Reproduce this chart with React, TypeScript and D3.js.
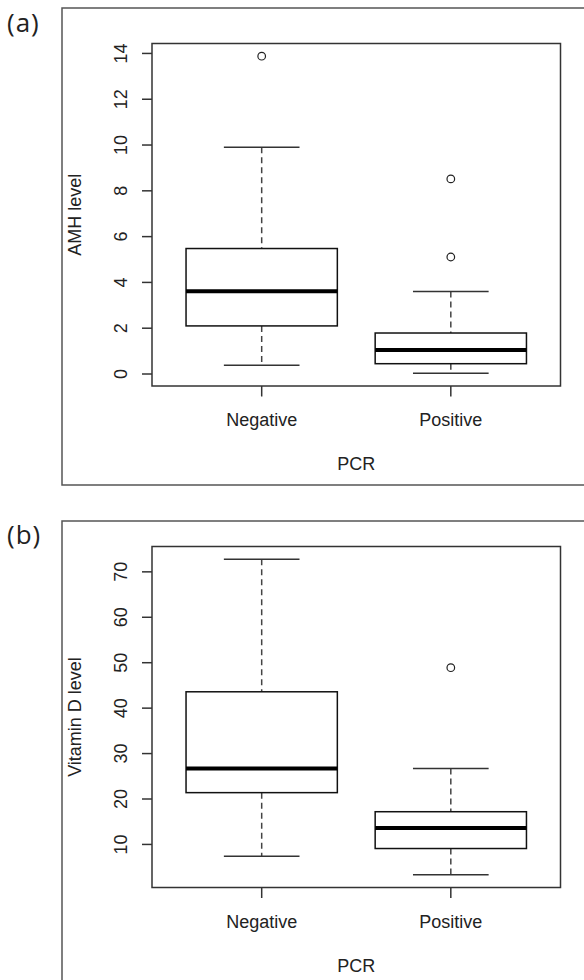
import { useEffect, useRef } from "react";
import * as d3 from "d3";

// five-number summaries: [lower whisker, Q1, median, Q3, upper whisker]
const groups = ["Negative", "Positive"];

const amhStats = [
  [0.38, 2.1, 3.61, 5.48, 9.9],
  [0.03, 0.45, 1.05, 1.79, 3.6],
];
const amhOutliers = [[13.88], [5.11, 8.52]];
const amhTicks = [0, 2, 4, 6, 8, 10, 12, 14];

const vitStats = [
  [7.4, 21.4, 26.7, 43.6, 72.8],
  [3.3, 9.1, 13.6, 17.2, 26.7],
];
const vitOutliers = [[], [48.9]];
const vitTicks = [10, 20, 30, 40, 50, 60, 70];

const FONT = "'Liberation Sans', Arial, sans-serif";

function drawPanel(svg, opts) {
  const { frameTop, frameBottom, top, bottom, tag, tagY, yLabel, stats, outliers, ticks } = opts;
  const left = 152;
  const right = 560.5;

  // outer frame (extends past the page edge like the reference)
  svg
    .append("rect")
    .attr("x", 62)
    .attr("y", frameTop)
    .attr("width", 560)
    .attr("height", frameBottom - frameTop)
    .attr("fill", "none")
    .attr("stroke", "#555")
    .attr("stroke-width", 1.5);

  svg
    .append("text")
    .attr("x", 7)
    .attr("y", tagY)
    .attr("font-family", "'Open Sans', sans-serif")
    .attr("font-size", 26)
    .attr("letter-spacing", 1)
    .attr("fill", "#222")
    .text(tag);

  // R-style 4% padding around the data range
  const all = stats.flat().concat(outliers.flat());
  const lo = d3.min(all);
  const hi = d3.max(all);
  const pad = (hi - lo) * 0.04;
  const y = d3.scaleLinear().domain([lo - pad, hi + pad]).range([bottom, top]);
  const x = d3.scaleLinear().domain([0.42, 2.58]).range([left, right]);

  svg
    .append("rect")
    .attr("x", left)
    .attr("y", top)
    .attr("width", right - left)
    .attr("height", bottom - top)
    .attr("fill", "none")
    .attr("stroke", "#333")
    .attr("stroke-width", 1.5);

  // y axis
  const yAxis = svg.append("g");
  yAxis
    .selectAll("line")
    .data(ticks)
    .enter()
    .append("line")
    .attr("x1", left - 10)
    .attr("x2", left)
    .attr("y1", (d) => y(d))
    .attr("y2", (d) => y(d))
    .attr("stroke", "#333")
    .attr("stroke-width", 1.5);
  yAxis
    .selectAll("text")
    .data(ticks)
    .enter()
    .append("text")
    .attr("transform", (d) => `translate(127,${y(d)}) rotate(-90)`)
    .attr("text-anchor", "middle")
    .attr("font-family", FONT)
    .attr("font-size", 18)
    .attr("fill", "#222")
    .text((d) => d);

  svg
    .append("text")
    .attr("transform", `translate(81,${(top + bottom) / 2}) rotate(-90)`)
    .attr("text-anchor", "middle")
    .attr("font-family", FONT)
    .attr("font-size", 18)
    .attr("fill", "#222")
    .text(yLabel);

  // x axis
  groups.forEach((name, i) => {
    const cx = x(i + 1);
    svg
      .append("line")
      .attr("x1", cx)
      .attr("x2", cx)
      .attr("y1", bottom)
      .attr("y2", bottom + 10.5)
      .attr("stroke", "#333")
      .attr("stroke-width", 1.5);
    svg
      .append("text")
      .attr("x", cx)
      .attr("y", bottom + 40)
      .attr("text-anchor", "middle")
      .attr("font-family", FONT)
      .attr("font-size", 18)
      .attr("fill", "#222")
      .text(name);
  });

  svg
    .append("text")
    .attr("x", (left + right) / 2)
    .attr("y", bottom + 84)
    .attr("text-anchor", "middle")
    .attr("font-family", FONT)
    .attr("font-size", 18)
    .attr("fill", "#222")
    .text("PCR");

  // boxes
  stats.forEach((s, i) => {
    const [wLo, q1, med, q3, wHi] = s;
    const cx = x(i + 1);
    const bx0 = x(i + 1 - 0.4);
    const bx1 = x(i + 1 + 0.4);
    const cx0 = x(i + 1 - 0.2);
    const cx1 = x(i + 1 + 0.2);
    const g = svg.append("g");

    [
      [wHi, q3],
      [q1, wLo],
    ].forEach(([a, b]) => {
      g.append("line")
        .attr("x1", cx)
        .attr("x2", cx)
        .attr("y1", y(a))
        .attr("y2", y(b))
        .attr("stroke", "#444")
        .attr("stroke-width", 1.5)
        .attr("stroke-dasharray", "6,4");
    });
    [wLo, wHi].forEach((v) => {
      g.append("line")
        .attr("x1", cx0)
        .attr("x2", cx1)
        .attr("y1", y(v))
        .attr("y2", y(v))
        .attr("stroke", "#333")
        .attr("stroke-width", 1.5);
    });
    g.append("rect")
      .attr("x", bx0)
      .attr("y", y(q3))
      .attr("width", bx1 - bx0)
      .attr("height", y(q1) - y(q3))
      .attr("fill", "none")
      .attr("stroke", "#111")
      .attr("stroke-width", 1.5);
    g.append("line")
      .attr("x1", bx0)
      .attr("x2", bx1)
      .attr("y1", y(med))
      .attr("y2", y(med))
      .attr("stroke", "#000")
      .attr("stroke-width", 4);

    g.selectAll("circle")
      .data(outliers[i])
      .enter()
      .append("circle")
      .attr("cx", cx)
      .attr("cy", (d) => y(d))
      .attr("r", 3.8)
      .attr("fill", "none")
      .attr("stroke", "#222")
      .attr("stroke-width", 1.2);
  });
}

export default function App() {
  const svgRef = useRef(null);

  useEffect(() => {
    if (!svgRef.current) return;
    document.body.style.margin = "0";
    const svg = d3.select(svgRef.current);
    svg.selectAll("*").remove();

    drawPanel(svg, {
      frameTop: 8,
      frameBottom: 485,
      top: 43.5,
      bottom: 386,
      tag: "(a)",
      tagY: 32,
      yLabel: "AMH level",
      stats: amhStats,
      outliers: amhOutliers,
      ticks: amhTicks,
    });

    drawPanel(svg, {
      frameTop: 521,
      frameBottom: 1000,
      top: 546.5,
      bottom: 887.5,
      tag: "(b)",
      tagY: 544,
      yLabel: "Vitamin D level",
      stats: vitStats,
      outliers: vitOutliers,
      ticks: vitTicks,
    });
  }, []);

  return (
    <svg
      ref={svgRef}
      width={584}
      height={980}
      style={{ display: "block", background: "#fff" }}
    />
  );
}
